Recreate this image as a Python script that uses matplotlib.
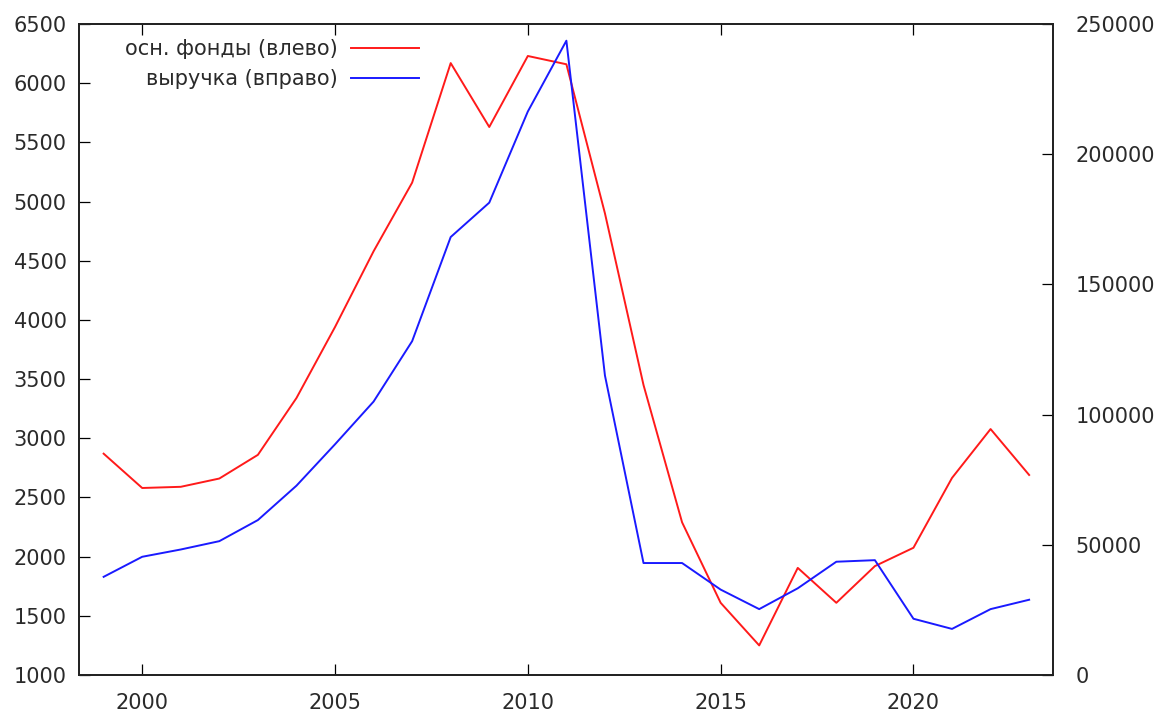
import matplotlib

matplotlib.use("Agg")
import matplotlib.pyplot as plt

years = list(range(1999, 2024))
fixed_assets = [2870, 2580, 2590, 2660, 2860, 3340, 3940, 4580, 5160, 6170,
                5630, 6230, 6160, 4900, 3450, 2290, 1610, 1250, 1905, 1610,
                1920, 2075, 2665, 3078, 2690]
revenue = [37700, 45400, 48200, 51400, 59500, 72700, 88600, 105000, 128200, 168200,
           181400, 216400, 243600, 115000, 43000, 43000, 32800, 25300, 33300, 43500,
           44100, 21600, 17700, 25300, 28900]
label_left = "осн. фонды (влево)"
label_right = "выручка (вправо)"

text_color = "#2a2a2a"
plt.rcParams["font.family"] = ["DejaVu Sans"]
plt.rcParams["font.size"] = 15

fig = plt.figure(figsize=(11.6, 7.13), dpi=100)
ax = fig.add_axes([0.0684, 0.0533, 0.8394, 0.913])
ax2 = ax.twinx()

l1, = ax.plot(years, fixed_assets, color="#ff1a1a", lw=1.4, label=label_left)
l2, = ax2.plot(years, revenue, color="#1a1aff", lw=1.4, label=label_right)

ax.set_xlim(1998.37, 2023.62)
ax.set_ylim(1000, 6500)
ax2.set_ylim(0, 250000)
ax.set_xticks([2000, 2005, 2010, 2015, 2020])
ax.set_yticks(range(1000, 6501, 500))
ax2.set_yticks(range(0, 250001, 50000))

for a in (ax, ax2):
    for sp in a.spines.values():
        sp.set_linewidth(1.3)
        sp.set_color("#222222")
ax.tick_params(axis="x", direction="in", length=8, width=0.9, top=True, bottom=True,
               pad=13, labelcolor=text_color, labelsize=15)
ax.tick_params(axis="y", direction="in", length=8, width=0.9, left=True, right=False,
               pad=9, labelcolor=text_color, labelsize=15)
ax2.tick_params(axis="y", direction="in", length=8, width=0.9, left=False, right=True,
                pad=16, labelcolor=text_color, labelsize=15)

leg = ax.legend(handles=[l1, l2], loc="upper right", bbox_to_anchor=(0.360, 0.993),
                frameon=False, markerfirst=False, handlelength=3.3, handletextpad=0.6,
                labelspacing=0.5, borderpad=0, fontsize=15)
for t in leg.get_texts():
    t.set_color(text_color)

fig.savefig("out.png", dpi=100)
